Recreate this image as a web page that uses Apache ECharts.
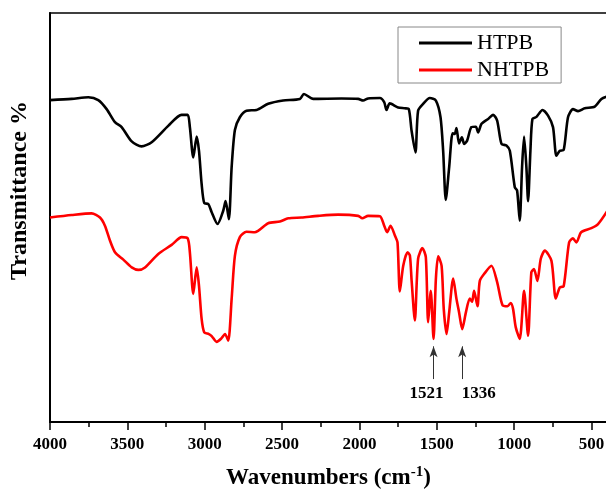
<!DOCTYPE html>
<html>
<head>
<meta charset="utf-8">
<script src="https://cdn.jsdelivr.net/npm/echarts@6/dist/echarts.min.js"></script>
<style>
  html, body { margin: 0; padding: 0; background: #fff; }
  #chart { width: 606px; height: 492px; }
</style>
</head>
<body>
<div id="chart"></div>
<script>
const FONT = "'Liberation Serif', 'Times New Roman', serif";

// HTPB spectrum (wavenumber, transmittance)
const htpbWave = [4000,3860,3752,3688,3634,3580,3537,3472,3408,3343,3236,3150,3110,3096,3074,3052,3037,3020,3003,2977,
  2955,2917,2880,2865,2844,2826,2805,2773,2730,2665,2590,2493,2385,2359,2299,2116,2008,1976,1944,1868,
  1840,1825,1804,1750,1707,1681,1663,1638,1621,1588,1545,1506,1476,1459,1442,1420,1398,1384,1373,1356,
  1338,1323,1304,1276,1248,1233,1211,1168,1136,1110,1082,1050,1028,996,981,964,949,936,921,910,
  895,882,856,817,781,749,727,705,680,652,620,587,544,479,436,400];
const htpbT = [78.7,79.0,79.4,78.7,76.5,73.3,72.1,68.6,67.4,68.4,72.4,75.1,75.1,72.1,64.7,69.8,66.3,58.2,53.5,53.3,
  51.3,48.4,51.7,54.0,49.6,62.3,71.4,74.5,76.1,76.3,77.8,78.6,79.0,80.2,79.0,79.1,79.0,78.6,79.1,79.2,
  78.2,76.3,77.9,76.9,76.7,76.5,71.2,65.9,76.1,77.8,79.2,78.6,74.5,66.3,54.3,62.3,70.6,70.4,71.9,68.1,
  69.6,68.0,68.8,72.1,72.2,70.8,72.9,74.1,75.1,73.7,68.0,67.6,66.3,57.4,56.6,49.2,62.3,69.8,62.3,54.0,
  66.3,74.1,74.6,76.3,74.9,72.1,65.1,66.3,66.5,74.5,76.5,76.0,76.7,77.1,79.0,79.6];

// NHTPB spectrum
const nhtpbWave = [4000,3860,3731,3677,3645,3612,3580,3526,3472,3429,3386,3300,3214,3149,3110,3096,3074,3052,3037,3020,
  3003,2973,2955,2923,2891,2869,2848,2826,2805,2773,2730,2676,2590,2514,2460,2374,2267,2137,2008,1982,
  1944,1868,1840,1821,1799,1771,1754,1739,1717,1689,1674,1663,1642,1621,1593,1571,1556,1539,1521,1506,
  1491,1469,1455,1437,1420,1394,1373,1356,1336,1312,1287,1272,1259,1237,1222,1190,1147,1110,1076,1043,
  1022,1007,990,964,936,910,889,872,850,828,802,759,731,705,680,645,620,598,567,501,458,400];
const nhtpbT = [50.0,50.6,51.0,50.0,48.0,44.3,41.5,39.7,37.8,37.2,37.8,41.1,43.3,45.2,44.9,41.5,31.3,37.8,33.3,25.2,
  21.9,21.5,21.0,19.6,20.5,21.5,19.9,30.1,40.6,45.2,46.5,46.4,48.6,49.0,49.8,50.0,50.4,50.7,50.4,49.8,
  50.4,50.3,48.0,46.4,48.0,45.6,43.9,31.9,38.2,41.5,40.7,34.7,24.8,39.9,42.5,40.3,24.4,32.1,20.3,35.0,
  40.5,38.2,27.6,21.5,26.8,35.1,30.1,26.8,22.7,26.8,30.2,29.4,32.1,28.3,34.5,36.4,38.2,34.2,28.6,28.3,
  29.1,27.6,23.2,20.3,32.1,21.1,36.6,37.4,34.5,39.9,41.9,39.4,30.2,32.9,33.2,43.9,44.9,43.9,46.4,47.4,
  48.4,51.5];

const majorTicks = [4000, 3500, 3000, 2500, 2000, 1500, 1000, 500];
const minorTicks = [3750, 3250, 2750, 2250, 1750, 1250, 750];
const peakLabels = ['1521', '1336'];
const peakWave = [1521, 1336];

// annotation placement (arrow from..to, label anchor)
const arrowFrom = 10.5, arrowTo = 18.5, labelY = 7.0;
const labelWave = [1567, 1229];

const zip = (xs, ys) => xs.map((x, i) => [x, ys[i]]);

const chart = echarts.init(document.getElementById('chart'));

const baseX = {
  type: 'value',
  min: 400,
  max: 4000,
  inverse: true,
  splitLine: { show: false },
};

chart.setOption({
  animation: false,
  textStyle: { fontFamily: FONT, color: '#000' },
  grid: {
    left: 50, top: 13, width: 557, height: 409,
    outerBoundsMode: 'none',
    containLabel: false,
    show: true, borderColor: '#000', borderWidth: 1.5,
  },
  legend: {
    orient: 'vertical',
    left: 398, top: 27,
    padding: [5, 12, 2, 21],
    itemWidth: 53, itemHeight: 3, itemGap: 5,
    icon: 'rect',
    borderColor: '#888', borderWidth: 1,
    textStyle: { fontSize: 22, lineHeight: 22, fontFamily: FONT, color: '#000' },
    data: ['HTPB', 'NHTPB'],
  },
  xAxis: [
    {
      ...baseX,
      name: 'Wavenumbers (cm{s|-1})',
      nameLocation: 'middle',
      nameGap: 43,
      nameTextStyle: {
        fontSize: 23, fontWeight: 'bold', fontFamily: FONT, color: '#000',
        rich: { s: { fontSize: 15, fontWeight: 'bold', fontFamily: FONT, verticalAlign: 'top', padding: [0, 0, 12, 0] } },
      },
      axisLine: { lineStyle: { color: '#000', width: 2 } },
      axisTick: { inside: false, length: 8, customValues: majorTicks, lineStyle: { color: '#000', width: 1.5 } },
      axisLabel: {
        customValues: majorTicks, margin: 14,
        formatter: v => String(v),
        fontSize: 17, fontWeight: 'bold', fontFamily: FONT, color: '#000',
      },
    },
    {
      ...baseX,
      position: 'bottom',
      axisLine: { show: false },
      axisTick: { inside: false, length: 5, customValues: minorTicks, lineStyle: { color: '#000', width: 1.5 } },
      axisLabel: { show: false },
    },
  ],
  yAxis: {
    type: 'value',
    min: 0,
    max: 100,
    name: 'Transmittance %',
    nameLocation: 'middle',
    nameGap: 18,
    nameTextStyle: {
      fontSize: 24, fontWeight: 'bold', fontFamily: FONT, color: '#000',
      padding: [0, 0, 0, 54],
    },
    axisLine: { show: true, lineStyle: { color: '#000', width: 2 } },
    axisTick: { show: false },
    axisLabel: { show: false },
    splitLine: { show: false },
  },
  series: [
    {
      name: 'HTPB',
      type: 'line',
      data: zip(htpbWave, htpbT),
      symbol: 'none',
      smooth: 0.25,
      color: '#000',
      lineStyle: { color: '#000', width: 2.6 },
    },
    {
      name: 'NHTPB',
      type: 'line',
      data: zip(nhtpbWave, nhtpbT),
      symbol: 'none',
      smooth: 0.25,
      color: '#ff0000',
      lineStyle: { color: '#ff0000', width: 2.6 },
      markLine: {
        silent: true,
        symbol: ['none', 'arrow'],
        symbolSize: [6, 11],
        label: { show: false },
        lineStyle: { color: '#333', width: 1, type: 'solid' },
        itemStyle: { color: '#000' },
        data: peakWave.map(w => [{ coord: [w, arrowFrom] }, { coord: [w, arrowTo] }]),
      },
      markPoint: {
        silent: true,
        symbol: 'circle',
        symbolSize: 1,
        itemStyle: { color: 'transparent' },
        label: {
          show: true, position: 'inside', formatter: '{b}',
          fontSize: 17, fontWeight: 'bold', fontFamily: FONT, color: '#000',
        },
        data: peakLabels.map((t, i) => ({ name: t, coord: [labelWave[i], labelY] })),
      },
    },
  ],
});
</script>
</body>
</html>
